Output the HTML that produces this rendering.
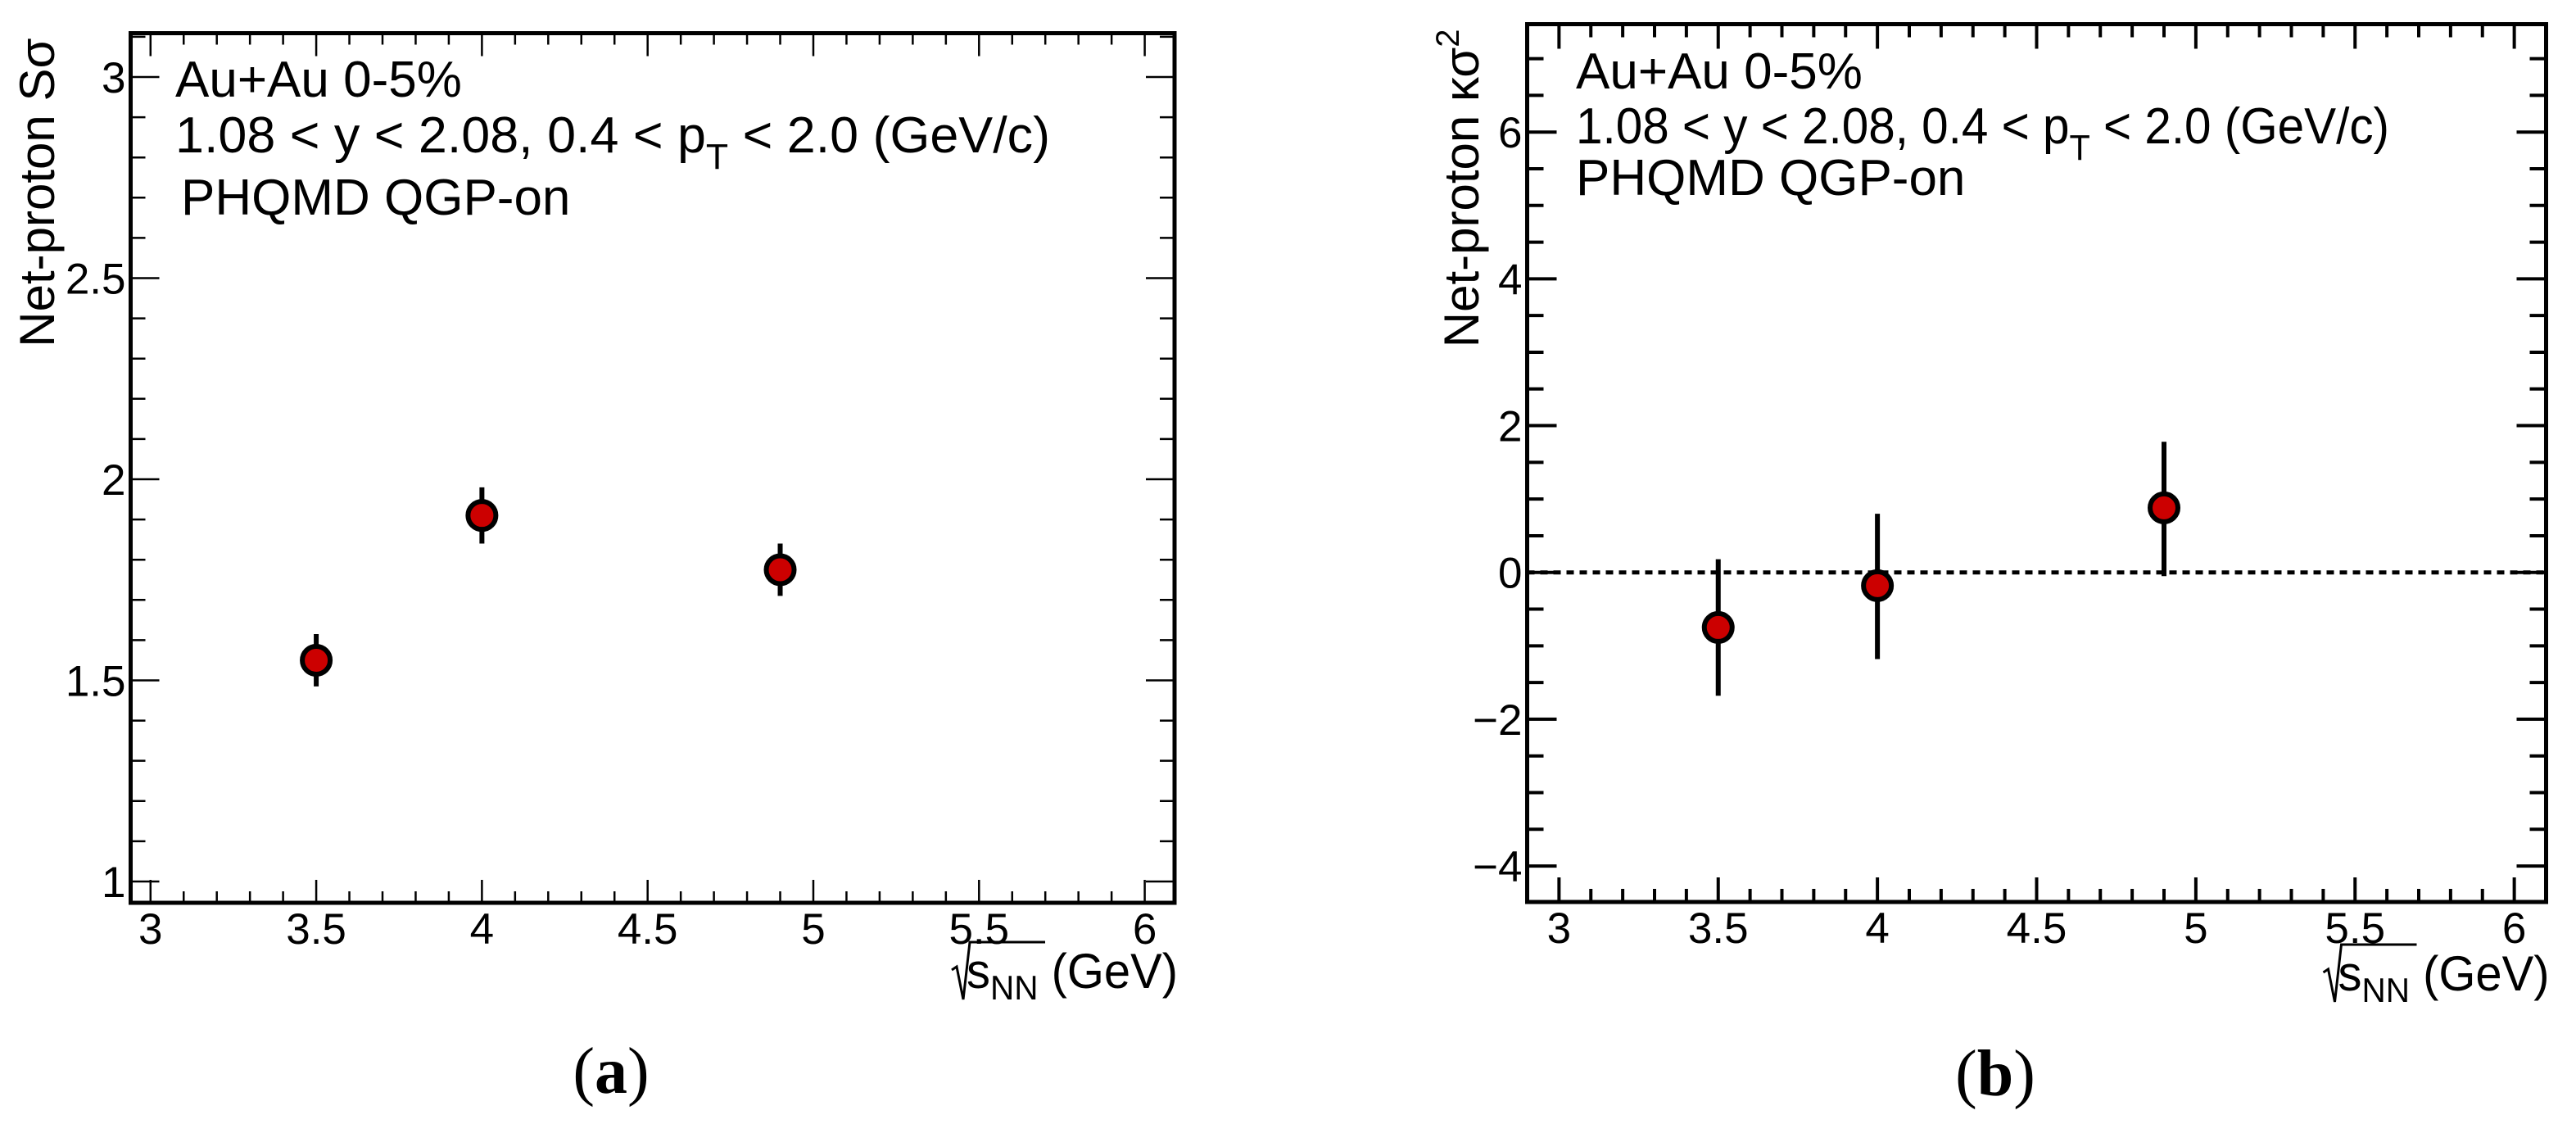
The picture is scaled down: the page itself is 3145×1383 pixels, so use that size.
<!DOCTYPE html>
<html><head><meta charset="utf-8"><style>
html,body{margin:0;padding:0;background:#fff;}
svg{display:block;font-family:"Liberation Sans",sans-serif;}
</style></head><body>
<svg id="chart" width="3145" height="1383" viewBox="0 0 3145 1383" xmlns="http://www.w3.org/2000/svg"></svg>
<script>
const xCategories = [3.5, 4.0, 4.9];
const sigmaValues = [1.55, 1.91, 1.775];
const sigmaErrUp = [0.065, 0.07, 0.065];
const sigmaErrDown = [0.065, 0.07, 0.065];
const kappaValues = [-0.75, -0.18, 0.88];
const kappaErrUp = [0.93, 0.98, 0.9];
const kappaErrDown = [0.93, 1.0, 0.93];
const xTickLabels = ["3", "3.5", "4", "4.5", "5", "5.5", "6"];
const sigmaTickLabels = ["1", "1.5", "2", "2.5", "3"];
const kappaTickLabels = ["\u22124", "\u22122", "0", "2", "4", "6"];

const NS = "http://www.w3.org/2000/svg";
const svg = document.getElementById("chart");
function mk(tag, attrs, parent, text) {
  const e = document.createElementNS(NS, tag);
  for (const k in attrs) e.setAttribute(k, attrs[k]);
  if (text !== undefined) e.textContent = text;
  (parent || svg).appendChild(e);
  return e;
}

function panel(cfg) {
  const g = mk("g", {});
  
  
  const X = v => cfg.L + (v - cfg.x0) / (cfg.x1 - cfg.x0) * (cfg.R - cfg.L);
  const Y = v => cfg.B - (v - cfg.y0) / (cfg.y1 - cfg.y0) * (cfg.B - cfg.T);

  for (let i = 0; i <= Math.round((cfg.x1 - cfg.x0) / 0.1); i++) {
    const v = Math.round((Math.ceil(cfg.x0 * 10) / 10 + i * 0.1) * 10) / 10;
    if (v > cfg.x1) break;
    const major = Math.abs(v * 2 - Math.round(v * 2)) < 1e-6;
    const len = major ? cfg.xMaj : cfg.xMin;
    const t1 = mk("line", {x1: X(v), x2: X(v), y1: cfg.B, y2: cfg.B - len, stroke: "#000", "stroke-width": cfg.tw}, g);
    
    
    mk("line", {x1: X(v), x2: X(v), y1: cfg.T, y2: cfg.T + len, stroke: "#000", "stroke-width": cfg.tw}, g);
  }
  xTickLabels.forEach(s => {
    const v = parseFloat(s);
    const t = mk("text", {x: X(v), y: cfg.B + 50, "font-size": 53, "text-anchor": "middle"}, g, s);
    
    
  });
  const n = Math.round((cfg.y1 - cfg.y0) / cfg.yMinStep);
  for (let i = 0; i <= n + 1; i++) {
    const v = Math.round((Math.ceil(cfg.y0 / cfg.yMinStep) * cfg.yMinStep + i * cfg.yMinStep) * 1000) / 1000;
    if (v > cfg.y1 + 1e-9) break;
    const major = Math.abs(v / cfg.yMajStep - Math.round(v / cfg.yMajStep)) < 1e-6;
    const len = major ? cfg.yMaj : cfg.yMin;
    const t1 = mk("line", {x1: cfg.L, x2: cfg.L + len, y1: Y(v), y2: Y(v), stroke: "#000", "stroke-width": cfg.tw}, g);
    
    
    mk("line", {x1: cfg.R, x2: cfg.R - len, y1: Y(v), y2: Y(v), stroke: "#000", "stroke-width": cfg.tw}, g);
  }
  cfg.yLabels.forEach(s => {
    const v = parseFloat(s.replace("\u2212", "-"));
    const t = mk("text", {x: cfg.L - 6, y: Y(v) + 19, "font-size": 53, "text-anchor": "end"}, g, s);
    
    
  });
  if (cfg.zero) {
    const z = mk("line", {x1: cfg.L, x2: cfg.R, y1: Y(0), y2: Y(0), stroke: "#000", "stroke-width": 5, "stroke-dasharray": "9 7"}, g);
    
    
  }
  xCategories.forEach((xv, i) => {
    const e = mk("line", {x1: X(xv), x2: X(xv), y1: Y(cfg.vals[i] + cfg.up[i]), y2: Y(cfg.vals[i] - cfg.dn[i]), stroke: "#000", "stroke-width": 6}, g);
    
    
    const c = mk("circle", {cx: X(xv), cy: Y(cfg.vals[i]), r: 17, fill: "#cc0000", stroke: "#000", "stroke-width": 6}, g);
    
    
  });
  const f = mk("rect", {x: cfg.L, y: cfg.T, width: cfg.R - cfg.L, height: cfg.B - cfg.T, fill: "none", stroke: "#000", "stroke-width": 5}, g);
  
  
  const tx = cfg.textX;
  const a = mk("text", {x: tx, y: cfg.ty[0], "font-size": 62}, g, "Au+Au 0-5%");
  
  
  const b = mk("text", {x: tx, y: cfg.ty[1], "font-size": 62, textLength: cfg.l2w, lengthAdjust: "spacingAndGlyphs"}, g);
  
  
  mk("tspan", {}, b, "1.08 < y < 2.08, 0.4 < p");
  mk("tspan", {dy: 20, "font-size": 44}, b, "T");
  mk("tspan", {dy: -20}, b, " < 2.0 (GeV/c)");
  const c3 = mk("text", {x: tx + cfg.l3dx, y: cfg.ty[2], "font-size": 62}, g, "PHQMD QGP-on");
  
  
  const yt = mk("text", {x: 0, y: 0, "font-size": 60, "text-anchor": "end", transform: `translate(${cfg.ytX},${cfg.T + 6}) rotate(-90)`}, g);
  
  
  if (cfg.kappa) {
    mk("tspan", {}, yt, "Net-proton \u03ba\u03c3");
    mk("tspan", {dy: -24, "font-size": 40}, yt, "2");
  } else {
    mk("tspan", {}, yt, "Net-proton S\u03c3");
  }
  const xt = mk("g", {}, g);
  
  
  const xs = cfg.R - 262;
  mk("path", {d: `M${xs - 10},${cfg.xtY - 22} l6,-4 l8,40 l8,-70 h92`, fill: "none", stroke: "#000", "stroke-width": 3}, xt);
  const tt = mk("text", {x: xs + 8, y: cfg.xtY, "font-size": 60, textLength: 258, lengthAdjust: "spacingAndGlyphs"}, xt);
  mk("tspan", {}, tt, "s");
  mk("tspan", {dy: 14, "font-size": 42}, tt, "NN");
  mk("tspan", {dy: -14}, tt, " (GeV)");
  const pl = mk("text", {x: cfg.plX, y: cfg.plY, "font-size": 80, "text-anchor": "middle", "font-family": "Liberation Serif, serif"}, g);
  
  
  mk("tspan", {}, pl, "(");
  mk("tspan", {"font-weight": "bold"}, pl, cfg.letter);
  mk("tspan", {}, pl, ")");
}

panel({name: "panel-a-skewness", L: 159.5, R: 1434, T: 40.5, B: 1102,
  x0: 2.94, x1: 6.09, y0: 0.947, y1: 3.109,
  xMaj: 28, xMin: 14, yMinStep: 0.1, yMajStep: 0.5, yMaj: 35, yMin: 18, tw: 2.5,
  yLabels: sigmaTickLabels, vals: sigmaValues, up: sigmaErrUp, dn: sigmaErrDown,
  textX: 214, ty: [118, 186, 262], l2w: 1068, l3dx: 7, ytX: 66, xtY: 1206,
  plX: 746, plY: 1334, letter: "a", kappa: false, zero: false});

panel({name: "panel-b-kurtosis", L: 1864.5, R: 3108.5, T: 29.5, B: 1101,
  x0: 2.9, x1: 6.1, y0: -4.49, y1: 7.47,
  xMaj: 30, xMin: 16, yMinStep: 0.5, yMajStep: 2, yMaj: 36, yMin: 20, tw: 4,
  yLabels: kappaTickLabels, vals: kappaValues, up: kappaErrUp, dn: kappaErrDown,
  textX: 1924, ty: [108, 175, 238], l2w: 993, l3dx: 0, ytX: 1805, xtY: 1209,
  plX: 2436, plY: 1337, letter: "b", kappa: true, zero: true});
</script>
</body></html>
